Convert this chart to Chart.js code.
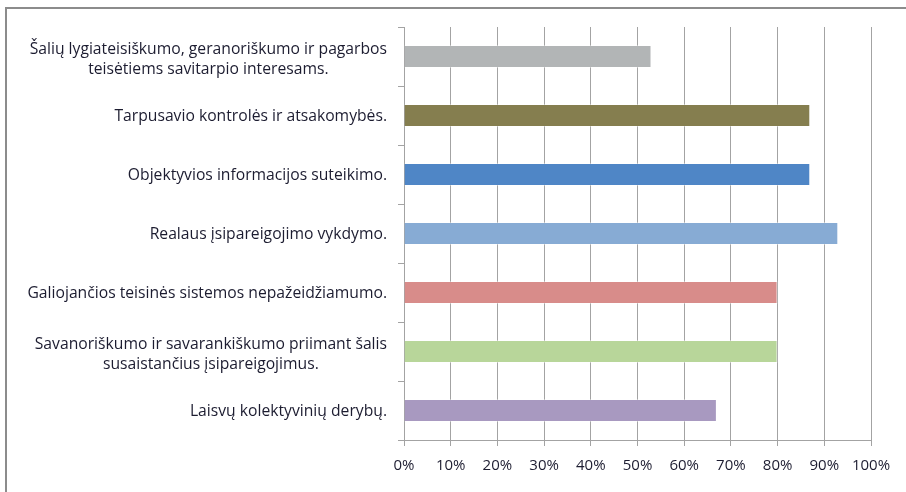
<!DOCTYPE html>
<html>
<head>
<meta charset="utf-8">
<script src="https://cdn.jsdelivr.net/npm/chart.js@4"></script>
<style>
html,body{margin:0;padding:0;background:#fff;}
#wrap{position:relative;width:906px;height:492px;overflow:hidden;}
#frame{position:absolute;left:5px;top:7px;width:920px;height:520px;border-left:2px solid #8c8c8c;border-top:2px solid #8c8c8c;box-sizing:border-box;}
canvas{position:absolute;left:0;top:0;}
</style>
</head>
<body>
<div id="wrap">
<div id="frame"></div>
<canvas id="c" width="906" height="492"></canvas>
</div>
<script>
const categories = [
  ["Šalių lygiateisiškumo, geranoriškumo ir pagarbos", "teisėtiems savitarpio interesams."],
  "Tarpusavio kontrolės ir atsakomybės.",
  "Objektyvios informacijos suteikimo.",
  "Realaus įsipareigojimo vykdymo.",
  "Galiojančios teisinės sistemos nepažeidžiamumo.",
  ["Savanoriškumo ir savarankiškumo priimant šalis", "susaistančius įsipareigojimus."],
  "Laisvų kolektyvinių derybų."
];
const values = [53, 87, 87, 93, 80, 80, 67];
const barColors = ["#b2b5b6", "#857e4f", "#4f86c6", "#87abd4", "#d88c8a", "#b8d69a", "#a899c0"];
const xTicks = [0, 10, 20, 30, 40, 50, 60, 70, 80, 90, 100];

const FONT = '15.7px "Open Sans"';
const TEXT_COLOR = '#1c1c30';

// Draw category labels: right-aligned block, lines centred within the block
const centredLabels = {
  id: 'centredLabels',
  afterDraw(chart) {
    const ys = chart.scales.y;
    const ctx = chart.ctx;
    ctx.save();
    ctx.font = FONT;
    ctx.fillStyle = TEXT_COLOR;
    ctx.textAlign = 'center';
    ctx.textBaseline = 'middle';
    const rightEdge = ys.right - 17;
    const lh = 19.5;
    chart.data.labels.forEach((lab, i) => {
      const lines = Array.isArray(lab) ? lab : [lab];
      const w = Math.max(...lines.map(l => ctx.measureText(l).width));
      const cx = rightEdge - w / 2;
      const cy = ys.getPixelForValue(i);
      const y0 = cy - (lines.length - 1) * lh / 2 + (lines.length > 1 ? 3 : 1);
      lines.forEach((l, k) => ctx.fillText(l, cx, y0 + k * lh));
    });
    ctx.restore();
  }
};

new Chart(document.getElementById('c'), {
  type: 'bar',
  data: {
    labels: categories,
    datasets: [{
      data: values,
      backgroundColor: barColors,
      borderColor: 'rgba(255,255,255,0.35)',
      borderWidth: 1,
      barPercentage: 0.39,
      categoryPercentage: 1
    }]
  },
  plugins: [centredLabels],
  options: {
    indexAxis: 'y',
    responsive: false,
    animation: false,
    layout: { padding: { left: 0, top: 27, right: 35, bottom: 0 } },
    plugins: { legend: { display: false }, tooltip: { enabled: false } },
    scales: {
      x: {
        min: 0, max: 100,
        afterBuildTicks: (s) => { s.ticks = xTicks.map(v => ({ value: v })); },
        afterFit: (s) => { s.height = 52; },
        grid: { color: '#a3a3a3', lineWidth: 1, tickLength: 6, drawTicks: true },
        border: { color: '#a3a3a3', width: 1 },
        ticks: {
          padding: 11,
          maxRotation: 0,
          color: TEXT_COLOR,
          font: { family: 'Open Sans', size: 15 },
          callback: (v) => v + '%'
        }
      },
      y: {
        offset: true,
        afterFit: (s) => { s.width = 404; },
        grid: { offset: true, drawOnChartArea: false, color: '#a3a3a3', tickLength: 6 },
        border: { color: '#a3a3a3', width: 1 },
        ticks: { display: false }
      }
    }
  }
});
</script>
</body>
</html>
